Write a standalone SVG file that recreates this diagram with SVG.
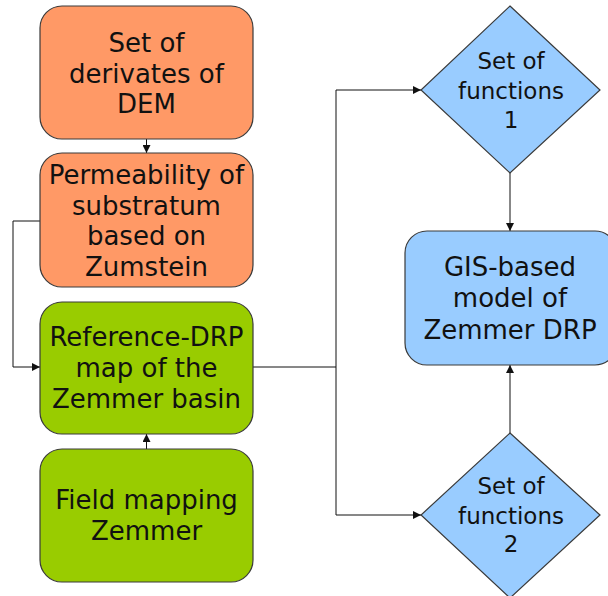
<svg xmlns="http://www.w3.org/2000/svg" width="608" height="596" viewBox="0 0 608 596">
  <style>
    .box { stroke: #3a3a3a; stroke-width: 1.2; }
    .orange { fill: #ff9966; }
    .green { fill: #99cc00; }
    .blue { fill: #99ccff; }
    .lbl { font-family: "DejaVu Sans", Verdana, sans-serif; font-size: 26px; fill: #111; text-anchor: middle; }
    .dlbl { font-family: "DejaVu Sans", Verdana, sans-serif; font-size: 23px; fill: #111; text-anchor: middle; }
    .wire { fill: none; stroke: #111; stroke-width: 1; }
  </style>
  <defs>
    <marker id="arr" viewBox="0 0 10 10" refX="10" refY="5" markerWidth="8" markerHeight="8" markerUnits="userSpaceOnUse" orient="auto">
      <path d="M0,0 L10,5 L0,10 z" fill="#111"/>
    </marker>
  </defs>

  <g id="connectors">
    <!-- DEM derivates -> Permeability -->
    <line class="wire" x1="146.5" y1="139" x2="146.5" y2="153" marker-end="url(#arr)"/>
    <!-- Permeability -> Reference-DRP (routed along the left side) -->
    <polyline class="wire" points="40,221 13,221 13,367 40,367" marker-end="url(#arr)"/>
    <!-- Field mapping -> Reference-DRP -->
    <line class="wire" x1="146.5" y1="449" x2="146.5" y2="434" marker-end="url(#arr)"/>
    <!-- Reference-DRP -> both function sets -->
    <line class="wire" x1="253" y1="367" x2="336" y2="367"/>
    <polyline class="wire" points="336,367 336,90 421,90" marker-end="url(#arr)"/>
    <polyline class="wire" points="336,367 336,515 421,515" marker-end="url(#arr)"/>
    <!-- Function sets -> GIS model -->
    <line class="wire" x1="510" y1="173" x2="510" y2="231" marker-end="url(#arr)"/>
    <line class="wire" x1="510" y1="433" x2="510" y2="365" marker-end="url(#arr)"/>
  </g>

  <g id="dem-derivates">
    <rect class="box orange" x="40" y="6" width="213" height="133" rx="22"/>
    <text class="lbl" x="146.5" y="52">Set of</text>
    <text class="lbl" x="146.5" y="82.5">derivates of</text>
    <text class="lbl" x="146.5" y="113">DEM</text>
  </g>

  <g id="permeability">
    <rect class="box orange" x="40" y="153" width="213" height="134" rx="22"/>
    <text class="lbl" x="146.5" y="184">Permeability of</text>
    <text class="lbl" x="146.5" y="214.5">substratum</text>
    <text class="lbl" x="146.5" y="245">based on</text>
    <text class="lbl" x="146.5" y="275.5">Zumstein</text>
  </g>

  <g id="reference-drp">
    <rect class="box green" x="40" y="302" width="213" height="132" rx="22"/>
    <text class="lbl" x="146.5" y="346">Reference-DRP</text>
    <text class="lbl" x="146.5" y="377">map of the</text>
    <text class="lbl" x="146.5" y="408">Zemmer basin</text>
  </g>

  <g id="field-mapping">
    <rect class="box green" x="40" y="449" width="213" height="133" rx="22"/>
    <text class="lbl" x="146.5" y="509">Field mapping</text>
    <text class="lbl" x="146.5" y="540">Zemmer</text>
  </g>

  <g id="functions-1">
    <polygon class="box blue" points="510,6 600,90 510,173 421,90"/>
    <text class="dlbl" x="511" y="69">Set of</text>
    <text class="dlbl" x="511" y="99">functions</text>
    <text class="dlbl" x="511" y="128">1</text>
  </g>

  <g id="gis-model">
    <rect class="box blue" x="405" y="231" width="212" height="134" rx="22"/>
    <text class="lbl" x="510" y="276">GIS-based</text>
    <text class="lbl" x="510" y="307">model of</text>
    <text class="lbl" x="510" y="339">Zemmer DRP</text>
  </g>

  <g id="functions-2">
    <polygon class="box blue" points="510,433 600,515 510,598 421,515"/>
    <text class="dlbl" x="511" y="494">Set of</text>
    <text class="dlbl" x="511" y="524">functions</text>
    <text class="dlbl" x="511" y="552">2</text>
  </g>
</svg>
